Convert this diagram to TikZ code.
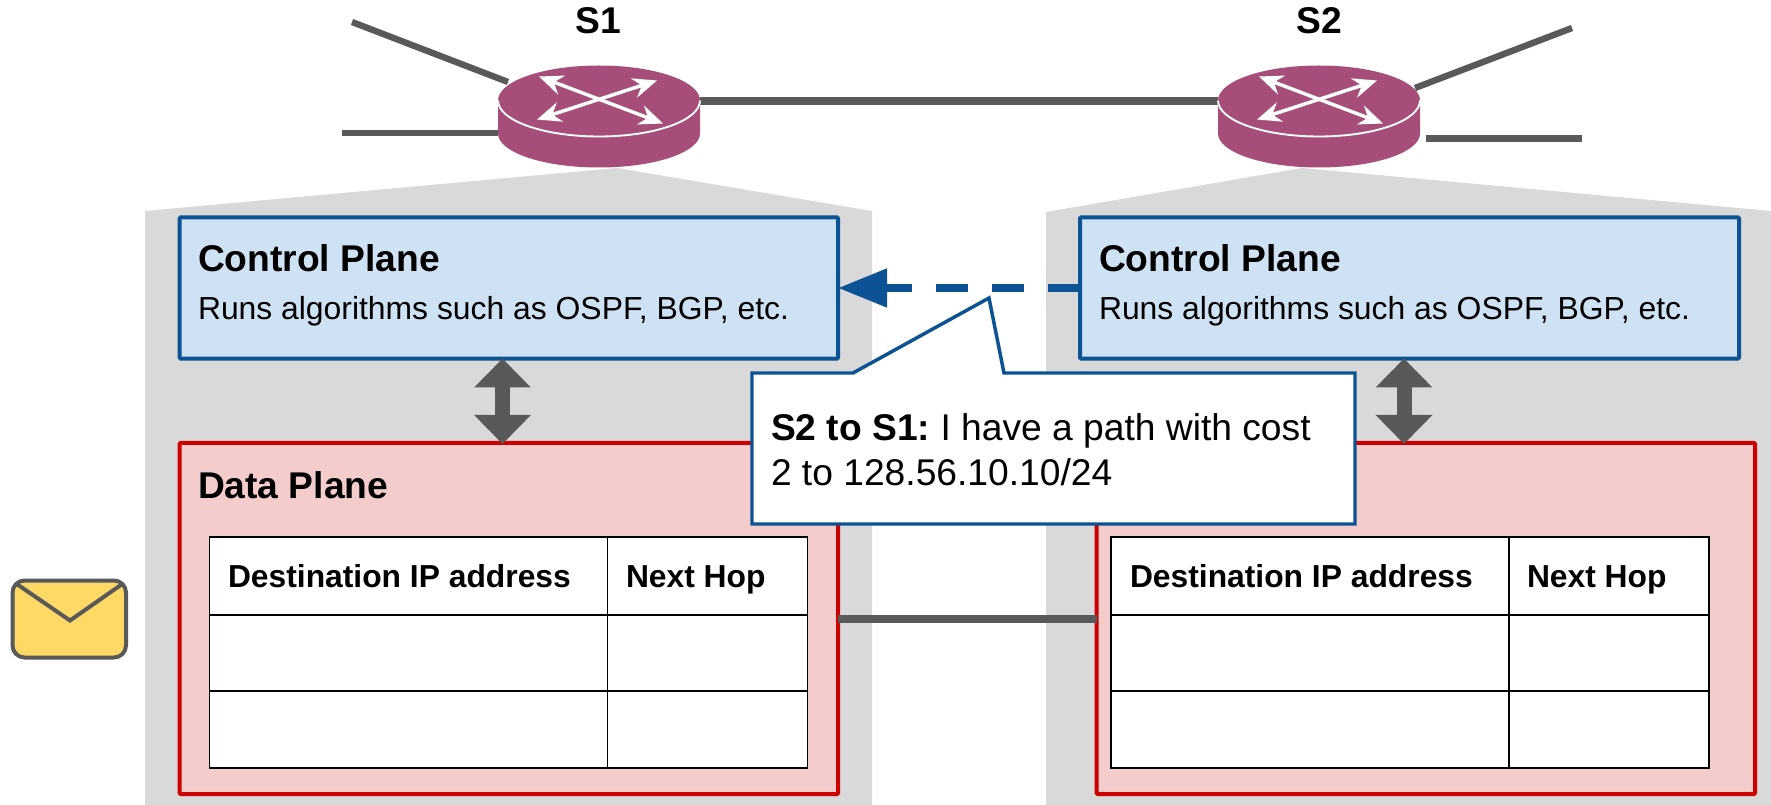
\documentclass[tikz,border=0pt]{standalone}
\usepackage{fontspec}
\setmainfont{Liberation Sans}
\usetikzlibrary{arrows.meta}
\definecolor{cgray}{HTML}{595959}
\definecolor{cbg}{HTML}{D9D9D9}
\definecolor{cblue}{HTML}{0B5394}
\definecolor{cbluef}{HTML}{CFE2F3}
\definecolor{cred}{HTML}{CC0000}
\definecolor{credf}{HTML}{F4CCCC}
\definecolor{crouter}{HTML}{A64D79}
\definecolor{cmail}{HTML}{FFD966}
\newcommand{\fsA}{\fontsize{27.9}{32}\selectfont}
\newcommand{\fsB}{\fontsize{23.9}{28}\selectfont}
\newcommand{\fsC}{\fontsize{23.85}{28}\selectfont\bfseries}
\frenchspacing
\tikzset{
  x=0.75pt,y=-0.75pt,
  wire/.style={cgray,line width=4.8pt},
  ctrlbox/.style={draw=cblue,fill=cbluef,line width=3pt,rounded corners=0.8pt,minimum width=#1*0.75pt,minimum height=141.2*0.75pt,outer sep=0pt,inner sep=0pt},
  databox/.style={draw=cred,fill=credf,line width=3pt,rounded corners=0.8pt,minimum width=658.4*0.75pt,minimum height=351*0.75pt,outer sep=0pt,inner sep=0pt},
  cell/.style n args={2}{draw=black,line width=1.4pt,fill=white,minimum height=#2*0.75pt,minimum width=#1*0.75pt,outer sep=0pt,inner sep=0pt},
  txt/.style={anchor=base west,inner sep=0pt,outer sep=0pt},
  biarrow/.style={cgray,line width=11.25pt,{Triangle[length=21.75pt,width=41.25pt]}-{Triangle[length=21.75pt,width=41.25pt]}},
  routerhead/.style={line width=2.6pt,{Stealth[length=18pt,width=15pt,inset=6pt]}-{Stealth[length=18pt,width=15pt,inset=6pt]}},
  routerpic/.pic={
    \fill[crouter] (-101,0) -- (-101,33) arc[start angle=180,end angle=360,x radius=75.75pt,y radius=25.5pt] -- (101,0) -- cycle;
    \fill[crouter] (0,0) ellipse[x radius=75.75pt,y radius=26.25pt];
    \draw[white,line width=1.4pt] (-101,0) arc[start angle=180,end angle=360,x radius=75.75pt,y radius=27pt];
    \draw[white,routerhead] (-60,-24) -- (64,23);
    \draw[white,routerhead] (58,-20) -- (-62,19);
  }
}
\begin{document}
\begin{tikzpicture}
\useasboundingbox (0,0) rectangle (1771,805);
% grey switch zooms
\fill[cbg] (145,211) -- (617,168) -- (872,211) -- (872,805) -- (145,805) -- cycle;
\fill[cbg] (1046,212) -- (1302,168) -- (1771,211) -- (1771,805) -- (1046,805) -- cycle;
% outer wires
\coordinate (s1a) at (352,22);
\coordinate (s1b) at (508,82);
\coordinate (s1c) at (342,133);
\coordinate (s1d) at (498,133);
\coordinate (s1e) at (700,101.5);
\coordinate (s2w) at (1218,101.5);
\coordinate (s2a) at (1415,88);
\coordinate (s2b) at (1572,28);
\coordinate (s2c) at (1426,138.5);
\coordinate (s2d) at (1582,138.5);
\draw[wire] (s1a) -- (s1b);
\draw[wire] (s1c) -- (s1d);
\draw[cgray,line width=6pt] (s1e) -- (s2w);
\draw[wire] (s2a) -- (s2b);
\draw[wire] (s2c) -- (s2d);
\pic (r1) at (599,100.5) {routerpic};
\pic (r2) at (1319,100.5) {routerpic};
\node[font=\fsA\bfseries,anchor=base,inner sep=0pt] (s1lab) at (598,33.5) {S1};
\node[font=\fsA\bfseries,anchor=base,inner sep=0pt] (s2lab) at (1319,33.5) {S2};
% planes
\node[ctrlbox=658.3] (c1) at (508.85,288) {};
\node[ctrlbox=659] (c2) at (1409.5,288) {};
\node[databox] (d1) at (508.8,618.5) {};
\node[databox] (d2) at (1425.8,618.5) {};
\coordinate (a1t) at (502.5,358.5);
\coordinate (a1b) at (502.5,444);
\coordinate (a2t) at (1404,358.5);
\coordinate (a2b) at (1404,444);
\draw[biarrow] (a1t) -- (a1b);
\draw[biarrow] (a2t) -- (a2b);
\coordinate (linky) at (0,619);
\draw[cgray,line width=5.8pt] (d1.east |- linky) -- (d2.west |- linky);
\draw[cblue,line width=6pt,dash pattern=on 24pt off 18pt,-{Triangle[length=36.75pt,width=27.75pt]}] (c2.west) -- (c1.east);
% plane texts
\node[txt,font=\fsA\bfseries] (c1t) at (198,272) {Control Plane};
\node[txt,font=\fsB] (c1s) at (198,319.5) {Runs algorithms such as OSPF, BGP, etc.};
\node[txt,font=\fsA\bfseries] (c2t) at (1099,272) {Control Plane};
\node[txt,font=\fsB] (c2s) at (1099,319.5) {Runs algorithms such as OSPF, BGP, etc.};
\node[txt,font=\fsA\bfseries] (d1t) at (198,498.5) {Data Plane};
% tables
\node[cell={398}{77.3}] (t1a) at (408.5,576) {};
\node[cell={200}{77.3}] (t1b) at (707.5,576) {};
\node[cell={398}{76.7}] (t1c) at (408.5,653) {};
\node[cell={200}{76.7}] (t1d) at (707.5,653) {};
\node[cell={398}{77}] (t1e) at (408.5,729.7) {};
\node[cell={200}{77}] (t1f) at (707.5,729.7) {};
\node[cell={398}{77.3}] (t2a) at (1310,576) {};
\node[cell={200}{77.3}] (t2b) at (1609,576) {};
\node[cell={398}{76.7}] (t2c) at (1310,653) {};
\node[cell={200}{76.7}] (t2d) at (1609,653) {};
\node[cell={398}{77}] (t2e) at (1310,729.7) {};
\node[cell={200}{77}] (t2f) at (1609,729.7) {};
\node[txt,font=\fsC] (h1a) at (228,587) {Destination IP address};
\node[txt,font=\fsC] (h1b) at (626,587) {Next Hop};
\node[txt,font=\fsC] (h2a) at (1130,587) {Destination IP address};
\node[txt,font=\fsC] (h2b) at (1527,587) {Next Hop};
% callout
\draw[cblue,line width=2.6pt,fill=white,line join=miter] (752,373) -- (853,373) -- (989,298) -- (1004,373) -- (1355,373) -- (1355,524) -- (752,524) -- cycle;
\node[txt,font=\fsA] (co1) at (771,440.5) {\textbf{S2 to S1:} I have a path with cost};
\node[txt,font=\fsA] (co2) at (771,485.5) {2 to 128.56.10.10/24};
% envelope
\draw[cgray,line width=3pt,fill=cmail,rounded corners=9pt] (12.5,580.5) rectangle (126,657.5);
\draw[cgray,line width=3pt] (16,583.5) -- (70,620.5) -- (123,583.5);
\end{tikzpicture}
\end{document}
